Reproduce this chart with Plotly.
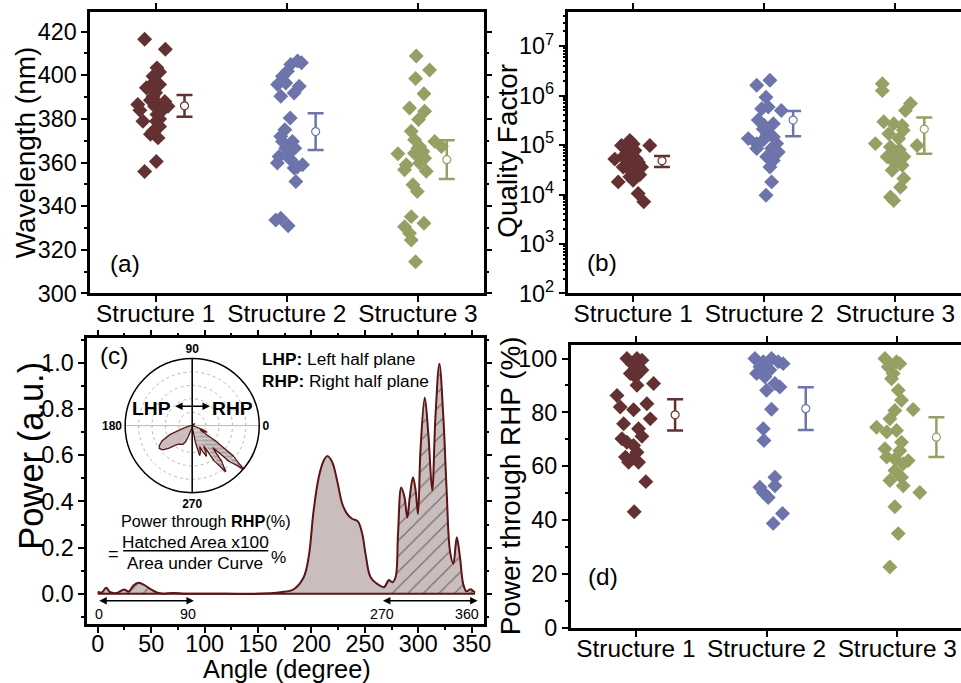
import numpy as np
import plotly.graph_objects as go

# reference frame in which all positions below are expressed
RW, RH = 961, 683
# figure size (slightly larger: the capture shrinks the page by ~1-2 %)
W, H = 971, 697
FONT = "Liberation Sans, Arial, sans-serif"

categories = ["Structure 1", "Structure 2", "Structure 3"]
colors = ["#633131", "#6d74ab", "#97a064"]

# ---------------- (a) Wavelength (nm) ----------------
wl_s1 = [416.5, 411.9, 403.4, 399.6, 395.8, 394.3, 390.4, 386.6, 385.8, 385.8, 383.5, 378.9, 378.9, 374.3,
         371.3, 360.5, 355.9, 401.5, 397.0, 392.0, 388.5, 387.0, 384.0, 382.0, 380.0, 376.5, 373.0, 388.0]
wl_s1_dx = [-0.084, 0.074, 0.01, -0.02, 0.03, -0.071, -0.02, -0.136, -0.008, 0.094, 0.044, -0.097, 0.005, -0.02,
            0.018, 0.005, -0.084, 0.03, -0.01, 0.0, -0.04, 0.02, -0.12, 0.01, 0.03, 0.03, -0.04, 0.07]
wl_s2 = [406.5, 405.7, 405.0, 401.9, 399.6, 395.8, 396.5, 395.0, 391.9, 390.4, 380.4, 375.0, 372.0, 369.7,
         366.6, 366.6, 362.8, 361.3, 359.8, 359.0, 357.5, 351.3, 333.7, 334.5, 331.0, 363.6, 369.7, 358.0]
wl_s2_dx = [0.082, 0.112, 0.03, 0.005, -0.033, -0.07, -0.008, 0.095, 0.056, -0.046, 0.026, -0.015, -0.046, 0.043,
            -0.008, 0.061, -0.059, 0.03, -0.072, 0.12, 0.056, 0.069, -0.084, -0.046, 0.01, 0.005, -0.033, 0.08]
wl_s3 = [408.8, 402.4, 398.5, 391.5, 385.0, 383.5, 379.7, 374.3, 369.7, 367.4, 370.5, 367.4, 365.1, 364.3, 364.0,
         362.0, 359.8, 359.0, 356.0, 356.7, 349.8, 346.7, 335.2, 330.6, 332.2, 327.6, 324.5, 314.5, 366.6, 362.8]
wl_s3_dx = [-0.013, 0.089, -0.018, 0.046, -0.064, 0.051, 0.005, -0.051, 0.128, 0.179, -0.026, 0.013, 0.038, -0.026,
            -0.153, 0.051, 0.013, -0.089, 0.064, -0.102, -0.038, -0.005, -0.051, -0.102, 0.046, -0.064, -0.051,
            -0.018, 0.0, 0.03]
wl_mean = [386.0, 374.2, 361.3]
wl_err = [5.0, 8.4, 8.9]

# ---------------- (b) Quality factor ----------------
q_s1 = [1.24e5, 9.8e4, 9.8e4, 7.8e4, 6.8e4, 5.2e4, 5.2e4, 4.2e4, 3.6e4, 3.6e4, 2.9e4, 2.3e4, 1.8e4, 1.95e4,
        1.05e4, 7.1e3, 5.8e4, 7.2e4, 2.5e4, 4.5e4, 8.9e4, 1.05e5, 5.0e4, 3.2e4]
q_s1_dx = [-0.025, -0.089, 0.127, 0.013, -0.05, -0.14, 0.025, -0.013, 0.064, -0.076, 0.025, -0.025, -0.114, 0.0,
           0.038, 0.081, -0.076, 0.0, 0.05, 0.04, -0.04, 0.0, -0.05, -0.03]
q_s2 = [2.04e6, 1.62e6, 9.3e5, 5.4e5, 5.9e5, 5.0e5, 3.2e5, 2.7e5, 2.1e5, 1.8e5, 1.35e5, 1.07e5, 1.45e5, 1.07e5,
        8.5e4, 8.5e4, 7.2e4, 5.8e4, 4.9e4, 3.6e4, 1.8e4, 9.7e3, 1.26e5, 2.5e5, 1.6e5, 6.3e4]
q_s2_dx = [0.043, -0.058, 0.013, -0.02, 0.03, 0.13, -0.046, 0.069, -0.008, 0.03, -0.122, -0.058, 0.069, 0.094,
           -0.058, 0.056, 0.107, 0.018, 0.069, 0.043, 0.056, 0.013, -0.008, 0.0, 0.02, 0.08]
q_s3 = [1.74e6, 1.26e6, 6.9e5, 5.0e5, 2.95e5, 2.7e5, 2.5e5, 1.7e5, 1.35e5, 1.07e5, 9.8e4, 9.1e4, 7.2e4, 5.8e4,
        5.8e4, 4.6e4, 3.9e4, 3.1e4, 2.1e4, 1.4e4, 8.9e3, 7.6e3, 7.2e4, 2.0e5, 8.0e4, 5.0e4]
q_s3_dx = [-0.1, -0.1, 0.115, 0.076, -0.089, -0.013, 0.051, -0.051, 0.025, -0.153, 0.165, -0.038, 0.013, 0.064,
           -0.064, -0.013, 0.051, -0.025, 0.064, 0.038, -0.038, -0.013, 0.0, 0.06, 0.03, 0.03]
q_mean = [4.8e4, 3.2e5, 2.1e5]
q_low = [3.6e4, 1.5e5, 6.7e4]
q_high = [6.0e4, 4.9e5, 3.6e5]

# ---------------- (c) Power vs angle ----------------
angle = [0, 3.8, 7.8, 11.6, 17.8, 24.7, 28.8, 33.4, 38, 42.8, 49, 55.3, 61.6, 71, 80, 96, 120, 150, 171, 183.4,
         192.7, 197.4, 202, 206.8, 211.5, 214.7, 219.4, 224, 228.8, 233.4, 238, 243.4, 247.5, 250.6, 255.3,
         261.6, 267.8, 272.5, 275.6, 278.7, 281, 284, 287, 289.7, 292, 295, 297.5, 299.7, 302, 306, 309.4, 313,
         316, 319.7, 323.4, 326.5, 329.6, 332.8, 336, 339, 342, 345, 349, 351.6, 353]
power = [0.01, 0.006, 0.026, 0.007, 0.004, 0.019, 0.01, 0.036, 0.048, 0.04, 0.022, 0.006, 0.001, 0.004, 0.001,
         0.0, 0.0, 0.0, 0.007, 0.02, 0.072, 0.16, 0.36, 0.505, 0.577, 0.596, 0.57, 0.49, 0.39, 0.346, 0.325,
         0.314, 0.26, 0.173, 0.072, 0.043, 0.029, 0.06, 0.05, 0.072, 0.26, 0.46, 0.42, 0.33, 0.42, 0.505, 0.447,
         0.346, 0.62, 0.85, 0.69, 0.447, 0.765, 0.996, 0.765, 0.447, 0.187, 0.13, 0.245, 0.158, 0.043, 0.011,
         0.02, 0.011, 0.005]

# ---------------- (d) Power through RHP ----------------
rhp_s1 = [100, 100, 99.4, 98.1, 96.9, 95.7, 94.4, 93.2, 90.7, 90.1, 86.3, 82.0, 83.2, 81.0, 75.8, 77.6, 73.9,
          71.1, 70.2, 68.9, 67.7, 65.2, 63.4, 62.7, 61.5, 61.5, 54.3, 43.1]
rhp_s1_dx = [-0.069, 0.008, 0.046, -0.031, 0.02, 0.046, -0.043, -0.005, 0.135, 0.008, -0.145, -0.12, 0.084,
             -0.018, -0.094, 0.11, 0.02, 0.046, -0.107, -0.069, -0.018, 0.008, -0.08, -0.031, 0.02, -0.056,
             0.076, -0.013]
rhp_s2 = [100, 98.8, 100, 98.1, 98.8, 96.9, 94.4, 95.7, 93.2, 90.7, 89.4, 88.2, 81.2, 73.9, 69.6, 55.9, 52.8,
          52.2, 50.3, 48.4, 42.5, 38.8]
rhp_s2_dx = [-0.089, -0.025, 0.038, 0.127, 0.089, -0.051, -0.076, 0.025, -0.013, 0.064, 0.102, 0.0, 0.038,
             -0.025, -0.02, 0.064, 0.064, -0.051, -0.025, 0.013, 0.122, 0.051]
rhp_s3 = [100, 98.8, 96.9, 98.1, 94.4, 92.5, 88.2, 84.5, 81.1, 80.7, 77.6, 74.5, 73.3, 72.7, 68.9, 66.5, 65.8,
          62.7, 62.1, 60.9, 63.4, 58.4, 55.9, 54.7, 52.8, 50.3, 45.0, 35.0, 22.6]
rhp_s3_dx = [-0.094, -0.005, -0.069, 0.02, -0.031, -0.043, 0.008, 0.033, 0.122, -0.018, -0.056, -0.158, -0.005,
             -0.08, 0.033, -0.094, 0.02, -0.018, 0.084, 0.046, -0.08, -0.018, 0.033, -0.056, 0.046, 0.173,
             -0.018, 0.008, -0.056]
rhp_mean = [79.1, 81.4, 70.8]
rhp_err = [5.8, 7.9, 7.4]

LINE_C = "#5c1414"
FILL_C = "#c9bdbd"
K = 1.015  # size compensation


def px(x):
    return x / RW


def py(y):
    return 1 - y / RH


fig = go.Figure()

panels = [
    ("x", "y", [wl_s1, wl_s2, wl_s3], [wl_s1_dx, wl_s2_dx, wl_s3_dx]),
    ("x2", "y2", [q_s1, q_s2, q_s3], [q_s1_dx, q_s2_dx, q_s3_dx]),
    ("x4", "y4", [rhp_s1, rhp_s2, rhp_s3], [rhp_s1_dx, rhp_s2_dx, rhp_s3_dx]),
]
for xa, ya, vals, dxs in panels:
    for i in range(3):
        fig.add_trace(go.Scatter(
            x=[i + 1 + d for d in dxs[i]], y=vals[i], xaxis=xa, yaxis=ya, mode="markers",
            marker=dict(symbol="diamond", size=11.5, color=colors[i], line=dict(width=0)),
            hoverinfo="skip"))

for i in range(3):
    mk = dict(symbol="circle", size=8, color="white", line=dict(color=colors[i], width=1.2))
    fig.add_trace(go.Scatter(
        x=[i + 1.22], y=[wl_mean[i]], xaxis="x", yaxis="y", mode="markers", marker=mk,
        error_y=dict(type="data", array=[wl_err[i]], color=colors[i], thickness=2.5, width=8)))
    fig.add_trace(go.Scatter(
        x=[i + 1.22], y=[q_mean[i]], xaxis="x2", yaxis="y2", mode="markers", marker=mk,
        error_y=dict(type="data", symmetric=False, array=[q_high[i] - q_mean[i]],
                     arrayminus=[q_mean[i] - q_low[i]], color=colors[i], thickness=2.5, width=8)))
    fig.add_trace(go.Scatter(
        x=[i + 1.30], y=[rhp_mean[i]], xaxis="x4", yaxis="y4", mode="markers", marker=mk,
        error_y=dict(type="data", array=[rhp_err[i]], color=colors[i], thickness=2.5, width=8)))

ang = np.array(angle, dtype=float)
pw = np.array(power, dtype=float)
fig.add_trace(go.Scatter(x=ang, y=pw, xaxis="x3", yaxis="y3", mode="lines", fill="tozeroy",
                         fillcolor=FILL_C, line=dict(width=0, shape="spline"), hoverinfo="skip"))
for m in [ang <= 90, ang >= 266]:
    fig.add_trace(go.Scatter(x=ang[m], y=pw[m], xaxis="x3", yaxis="y3", mode="lines", fill="tozeroy",
                             fillcolor=FILL_C,
                             fillpattern=dict(shape="/", fgcolor="#222222", bgcolor=FILL_C, size=11,
                                              solidity=0.11),
                             line=dict(width=0, shape="spline"), hoverinfo="skip"))
fig.add_trace(go.Scatter(x=ang, y=pw, xaxis="x3", yaxis="y3", mode="lines",
                         line=dict(color=LINE_C, width=2, shape="spline"), hoverinfo="skip"))

# polar inset
pcx, pcy, prad = 192, 425, 67
mid = (ang >= 171) & (ang <= 268)
fig.add_trace(go.Scatterpolar(r=pw[mid], theta=ang[mid], mode="lines", fill="toself", fillcolor=FILL_C,
                              line=dict(width=0), subplot="polar", hoverinfo="skip"))
hm = (ang <= 90) | (ang >= 266)
widths = np.gradient(ang)
fig.add_trace(go.Barpolar(r=pw[hm], theta=ang[hm], width=widths[hm], subplot="polar",
                          marker=dict(color=FILL_C, line=dict(width=0),
                                      pattern=dict(shape="-", fgcolor="#444444", bgcolor=FILL_C, size=4,
                                                   solidity=0.3)),
                          hoverinfo="skip"))
fig.add_trace(go.Scatterpolar(r=pw, theta=ang, mode="lines", line=dict(color=LINE_C, width=1.3),
                              subplot="polar", hoverinfo="skip"))

axis_common = dict(showline=True, linecolor="black", linewidth=2.5, mirror="ticks", ticks="outside",
                   ticklen=6, tickwidth=2, tickcolor="black", showgrid=False, zeroline=False,
                   tickfont=dict(family=FONT, size=23 * K, color="black"))
xcommon = dict(axis_common, ticklabelstandoff=-9)
cat_axis = dict(xcommon, tickvals=[1, 2, 3], ticktext=categories, range=[0.5, 3.5],
                tickfont=dict(family=FONT, size=24 * K, color="black"))
minor = dict(ticks="outside", ticklen=3, tickwidth=1.5, tickcolor="black")

fig.update_layout(
    width=W, height=H, margin=dict(l=0, r=0, t=0, b=0), showlegend=False,
    paper_bgcolor="white", plot_bgcolor="white", font=dict(family=FONT, color="black"),
    xaxis=dict(cat_axis, domain=[px(90), px(483)], anchor="y"),
    yaxis=dict(axis_common, domain=[py(293), py(12)], anchor="x", range=[300, 429], dtick=20,
               minor=dict(minor, dtick=10)),
    xaxis2=dict(cat_axis, domain=[px(567), px(960)], anchor="y2"),
    yaxis2=dict(axis_common, domain=[py(293), py(12)], anchor="x2", type="log", range=[2, 7.69],
                tickvals=[1e2, 1e3, 1e4, 1e5, 1e6, 1e7],
                ticktext=["10<sup>2</sup>", "10<sup>3</sup>", "10<sup>4</sup>", "10<sup>5</sup>",
                          "10<sup>6</sup>", "10<sup>7</sup>"],
                minor=dict(minor, dtick="D1", ticklen=2)),
    xaxis3=dict(xcommon, domain=[px(87), px(483)], anchor="y3", range=[-10, 361], dtick=50,
                minor=dict(minor, dtick=25)),
    yaxis3=dict(axis_common, domain=[py(623), py(338)], anchor="x3", range=[-0.13, 1.105], dtick=0.2,
                tick0=0, tickformat=".1f", minor=dict(minor, dtick=0.1, tick0=0)),
    xaxis4=dict(cat_axis, domain=[px(570), 1.0], anchor="y4", range=[0.5, 3.496]),
    yaxis4=dict(axis_common, domain=[py(627), py(344)], anchor="x4", range=[0, 105.2], dtick=20,
                minor=dict(minor, dtick=10)),
    polar=dict(
        domain=dict(x=[px(pcx - prad), px(pcx + prad)], y=[py(pcy + prad), py(pcy - prad)]),
        bgcolor="white",
        radialaxis=dict(range=[0, 1.0], dtick=0.2, showticklabels=False, ticks="", showline=False,
                        gridcolor="#b8b8b8", griddash="dot", gridwidth=1),
        angularaxis=dict(tickvals=[0, 90, 180, 270],
                         ticktext=["<b>0</b>", "<b>90</b>", "<b>180</b>", "<b>270</b>"],
                         ticks="", showline=True, linecolor="black", linewidth=1.5,
                         gridcolor="#b8b8b8", tickfont=dict(family=FONT, size=12, color="black"),
                         rotation=0, direction="counterclockwise"),
    ),
)

fig.add_shape(type="line", xref="x3", yref="y3", x0=0, x1=353, y0=0, y1=0,
              line=dict(color=LINE_C, width=2))
fig.add_shape(type="line", xref="paper", yref="paper", x0=px(pcx), x1=px(pcx), y0=py(pcy - prad),
              y1=py(pcy + prad), line=dict(color="black", width=1.5))
fig.add_shape(type="line", xref="paper", yref="paper", x0=px(123), x1=px(268), y0=py(550), y1=py(550),
              line=dict(color="black", width=1.5))

ann = []


def text(x, y, s, size, angle=0, xanchor="center"):
    ann.append(dict(x=px(x), y=py(y), xref="paper", yref="paper", text=s, showarrow=False,
                    font=dict(family=FONT, size=size * K, color="black"), textangle=angle,
                    xanchor=xanchor, yanchor="middle"))


text(25, 153, "Wavelength (nm)", 27.5, -90)
text(507, 151, "Quality Factor", 27.5, -90)
text(31, 455, "Power (a.u.)", 34, -90)
text(510, 485, "Power through RHP (%)", 27.5, -90)
text(287, 668, "Angle (degree)", 25)
text(125, 263, "(a)", 24)
text(601, 262, "(b)", 24)
text(114, 355, "(c)", 24)
text(602, 576, "(d)", 24)
text(260, 358, "<b>LHP:</b> Left half plane", 17, xanchor="left")
text(260, 380, "<b>RHP:</b> Right half plane", 17, xanchor="left")
text(151, 408, "<b>LHP</b>", 19)
text(232, 408, "<b>RHP</b>", 19)
text(206, 520, "Power through <b>RHP</b>(%)", 16)
text(113, 553, "=", 18)
text(195, 541, "Hatched Area x100", 17)
text(195, 562, "Area under Curve", 17)
text(278, 556, "%", 17)
text(99, 613, "0", 14)
text(188, 613, "90", 14)
text(382, 613, "270", 14)
text(467, 613, "360", 14)


def darrow(x0, x1, y, xref="x3", yref="y3"):
    ann.append(dict(x=x1, y=y, ax=x0, ay=y, xref=xref, yref=yref, axref=xref, ayref=yref, text="",
                    showarrow=True, arrowhead=2, arrowside="end+start", arrowsize=1, arrowwidth=1.5,
                    arrowcolor="black", standoff=0, startstandoff=0))


darrow(0, 90, -0.03)
darrow(265.5, 355.5, -0.03)
darrow(71, 105, 0.812)

fig.update_layout(annotations=ann)

post = ("var s=document.documentElement.style;s.margin='0';s.padding='0';s.overflow='hidden';"
        "var b=document.body.style;b.margin='0';b.padding='0';b.overflow='hidden';"
        "var g=document.getElementById('{plot_id}');g.style.position='fixed';g.style.left='0px';"
        "g.style.top='0px';")
fig.write_html("out.html", config={"displayModeBar": False}, post_script=post)
